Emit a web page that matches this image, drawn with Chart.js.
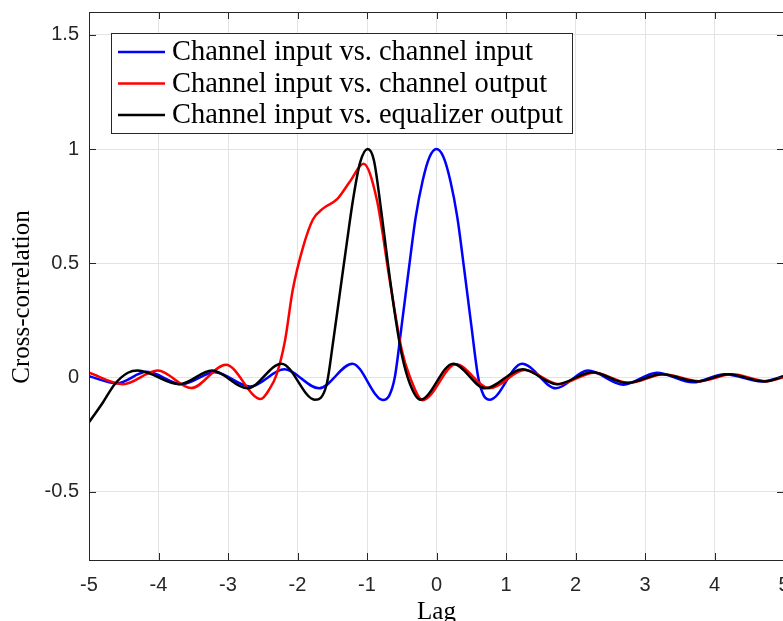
<!DOCTYPE html>
<html>
<head>
<meta charset="utf-8">
<script src="https://cdn.jsdelivr.net/npm/chart.js@4.4.1/dist/chart.umd.min.js"></script>
<style>
  html, body { margin: 0; padding: 0; overflow: hidden; background: #fff; }
  #wrap { width: 790px; height: 621px; }
</style>
</head>
<body>
<div id="wrap"><canvas id="xcorr" width="790" height="621"></canvas></div>
<script>
// values (lag, cross-correlation)
var inInLag = [-5, -4.6, -4.17, -3.66, -3.19, -2.68, -2.19, -1.69, -1.21, -0.77, -0.68, -0.6, -0.5, -0.4, -0.3, -0.2, -0.1, 0,
               0.1, 0.2, 0.3, 0.4, 0.5, 0.6, 0.68, 0.77, 1.23, 1.72, 2.18, 2.69, 3.17, 3.69, 4.15, 4.68, 5];
var inInVal = [0.005, -0.026, 0.024, -0.03, 0.022, -0.04, 0.035, -0.048, 0.06, -0.099, -0.08, 0.0, 0.23, 0.47, 0.70, 0.86, 0.965, 1.0,
               0.965, 0.86, 0.70, 0.47, 0.23, 0.0, -0.08, -0.098, 0.06, -0.048, 0.03, -0.032, 0.02, -0.022, 0.014, -0.018, 0.005];

var inOutLag = [-5, -4.51, -4.01, -3.53, -3.03, -2.53, -2.4, -2.3, -2.18, -2.07, -1.92, -1.78, -1.63, -1.43, -1.24, -1.05,
                -0.86, -0.67, -0.5, -0.38, -0.2, 0.28, 0.76, 1.27, 1.76, 2.27, 2.77, 3.27, 3.78, 4.25, 4.75, 5];
var inOutVal = [0.02, -0.03, 0.03, -0.047, 0.055, -0.095, -0.05, 0.013, 0.16, 0.38, 0.57, 0.69, 0.74, 0.78, 0.86, 0.935,
                0.78, 0.42, 0.12, 0.0, -0.1, 0.057, -0.048, 0.032, -0.03, 0.02, -0.024, 0.014, -0.017, 0.013, -0.017, 0.0];

var inEqLag = [-5, -4.8, -4.63, -4.44, -4.3, -3.7, -3.23, -2.72, -2.23, -1.75, -1.58, -1.49, -1.39, -1.29, -1.2, -1.1, -0.99,
               -0.9, -0.8, -0.7, -0.6, -0.5, -0.38, -0.23, 0.24, 0.7, 1.24, 1.73, 2.24, 2.74, 3.24, 3.75, 4.2, 4.72, 5];
var inEqVal = [-0.197, -0.11, -0.03, 0.02, 0.03, -0.03, 0.03, -0.048, 0.06, -0.098, -0.03, 0.15, 0.37, 0.59, 0.78, 0.94, 1.0,
               0.95, 0.74, 0.5, 0.28, 0.1, -0.03, -0.098, 0.06, -0.048, 0.035, -0.03, 0.022, -0.025, 0.013, -0.018, 0.013, -0.018, 0.005];

var seriesNames = ["Channel input vs. channel input", "Channel input vs. channel output", "Channel input vs. equalizer output"];
var seriesColors = ["#0000ff", "#ff0000", "#000000"];
var yTickValues = [-0.5, 0, 0.5, 1, 1.5];
var xTitle = "Lag";
var yTitle = "Cross-correlation";

function pts(lags, vals) {
  var out = [];
  for (var i = 0; i < lags.length; i++) out.push({ x: lags[i], y: vals[i] });
  return out;
}

function noPad(s) {
  s.paddingLeft = 0; s.paddingRight = 0; s.paddingTop = 0; s.paddingBottom = 0;
}

var frame = {
  id: 'frame',
  afterDraw: function(chart) {
    var ctx = chart.ctx, a = chart.chartArea;
    var xs = chart.scales.x, ys = chart.scales.y;
    ctx.save();
    ctx.strokeStyle = '#262626';
    ctx.lineWidth = 1;
    ctx.strokeRect(a.left + 0.5, a.top + 0.5, a.right - a.left, a.bottom - a.top);
    ctx.beginPath();
    xs.ticks.forEach(function(t) {
      var px = Math.round(xs.getPixelForValue(t.value)) + 0.5;
      ctx.moveTo(px, a.bottom); ctx.lineTo(px, a.bottom - 7);
      ctx.moveTo(px, a.top); ctx.lineTo(px, a.top + 7);
    });
    ys.ticks.forEach(function(t) {
      var py = Math.round(ys.getPixelForValue(t.value)) + 0.5;
      ctx.moveTo(a.left, py); ctx.lineTo(a.left + 7, py);
      ctx.moveTo(a.right, py); ctx.lineTo(a.right - 7, py);
    });
    ctx.stroke();

    // axis titles
    ctx.fillStyle = '#000';
    ctx.font = '25px "Liberation Serif"';
    ctx.textAlign = 'center';
    ctx.textBaseline = 'alphabetic';
    ctx.fillText(xTitle, (a.left + a.right) / 2, 619);
    ctx.save();
    ctx.translate(29, 297);
    ctx.rotate(-Math.PI / 2);
    ctx.fillText(yTitle, 0, 0);
    ctx.restore();

    // legend box
    var bx = 111, by = 33, bw = 461, bh = 100;
    ctx.fillStyle = '#fff';
    ctx.fillRect(bx, by, bw, bh);
    ctx.strokeStyle = '#262626';
    ctx.lineWidth = 1;
    ctx.strokeRect(bx + 0.5, by + 0.5, bw, bh);
    var size = 27;
    ctx.font = size + 'px "Liberation Serif"';
    var w = ctx.measureText(seriesNames[2]).width;
    size = size * 391 / w;
    ctx.font = size + 'px "Liberation Serif"';
    ctx.textBaseline = 'middle';
    ctx.textAlign = 'left';
    var rows = [52, 83.5, 115];
    chart.data.datasets.forEach(function(ds, i) {
      ctx.strokeStyle = ds.borderColor;
      ctx.lineWidth = 2.5;
      ctx.beginPath();
      ctx.moveTo(118, rows[i]); ctx.lineTo(165, rows[i]);
      ctx.stroke();
      ctx.fillStyle = '#000';
      ctx.fillText(ds.label, 172, rows[i] + 1);
    });
    ctx.restore();
  }
};

var ctx = document.getElementById('xcorr').getContext('2d');
var chart = new Chart(ctx, {
  type: 'line',
  data: {
    datasets: [
      { label: seriesNames[0], data: pts(inInLag, inInVal), borderColor: seriesColors[0], order: 2 },
      { label: seriesNames[1], data: pts(inOutLag, inOutVal), borderColor: seriesColors[1], order: 1 },
      { label: seriesNames[2], data: pts(inEqLag, inEqVal), borderColor: seriesColors[2], order: 0 }
    ]
  },
  options: {
    responsive: false,
    animation: false,
    layout: { padding: { top: 12, right: 6, left: 0, bottom: 0 } },
    elements: {
      point: { radius: 0 },
      line: { borderWidth: 2.5, cubicInterpolationMode: 'monotone', fill: false }
    },
    plugins: { legend: { display: false }, tooltip: { enabled: false } },
    scales: {
      x: {
        type: 'linear', min: -5, max: 5,
        ticks: { stepSize: 1, padding: 13, color: '#262626', maxRotation: 0,
                 font: { family: '"Liberation Sans"', size: 20 } },
        grid: { color: '#e3e3e3', drawTicks: false },
        border: { display: false },
        afterFit: function(s) { s.height = 61; noPad(s); }
      },
      y: {
        type: 'linear', min: -0.8, max: 1.6,
        afterBuildTicks: function(s) { s.ticks = yTickValues.map(function(v) { return { value: v }; }); },
        ticks: { padding: 10, color: '#262626', font: { family: '"Liberation Sans"', size: 20 },
                 callback: function(v) { return String(v); } },
        grid: { color: '#e3e3e3', drawTicks: false },
        border: { display: false },
        afterFit: function(s) { s.width = 89; noPad(s); }
      }
    }
  },
  plugins: [frame]
});
</script>
</body>
</html>
